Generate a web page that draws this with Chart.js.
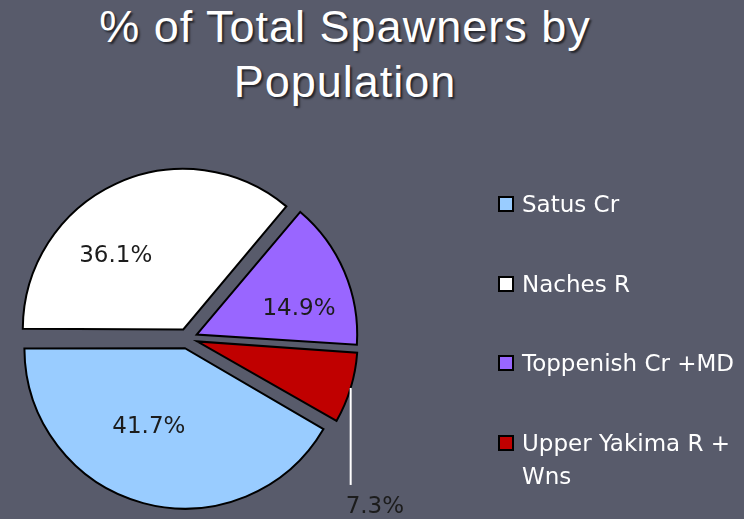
<!DOCTYPE html>
<html>
<head>
<meta charset="utf-8">
<script src="https://cdn.jsdelivr.net/npm/chart.js@4.4.1/dist/chart.umd.min.js"></script>
<style>
  html, body { margin: 0; padding: 0; }
  body { width: 744px; height: 519px; background: #585b6b; position: relative; overflow: hidden; font-family: "DejaVu Sans", sans-serif; }
  #title { position: absolute; left: 0; top: -1px; width: 690px; text-align: center; color: #ffffff;
           font-family: "Liberation Sans", Arial, sans-serif; font-size: 45px; letter-spacing: 1px; line-height: 55px;
           text-shadow: 2px 2px 2px rgba(0,0,0,0.6); }
  #chart { position: absolute; left: 0; top: 0; }
  #legend { position: absolute; left: 498px; top: 0; width: 246px; height: 519px; }
  .item { position: absolute; left: 0; width: 246px; display: flex; align-items: flex-start; }
  .sw { width: 12px; height: 12px; border: 2px solid #000; margin-top: 8px; flex: 0 0 auto; }
  .txt { color: #ffffff; font-size: 23px; line-height: 33px; margin-left: 8px; width: 226px; }
</style>
</head>
<body>
<div id="title"></div>
<canvas id="chart" width="744" height="519"></canvas>
<div id="legend"></div>
<script>
// ---- data ----
const titleLines = ["% of Total Spawners by", "Population"];
const categories = ["Satus Cr", "Naches R", "Toppenish Cr +MD", "Upper Yakima R + Wns"];
const percentValues = [41.7, 36.1, 14.9, 7.3];
const sliceColors = ["#99ccff", "#ffffff", "#9966ff", "#c00000"];

// ---- layout / style (not data) ----
const EXPLODE = 10;          // px each slice is pulled out
const RADIUS = 160.5;
const labelPlacement = [     // label position relative to slice: turn (deg) from mid-angle, fraction of radius
  { turn: 10, frac: 0.53 },
  { turn: -17, frac: 0.63 },
  { turn: 8, frac: 0.66 },
  { outside: true, leader: 97 }
];

document.getElementById('title').innerHTML = titleLines.join('<br>');

const legend = document.getElementById('legend');
categories.forEach((c, i) => {
  const it = document.createElement('div');
  it.className = 'item';
  it.style.top = (188 + i * 79.7) + 'px';
  const sw = document.createElement('div');
  sw.className = 'sw';
  sw.style.background = sliceColors[i];
  const tx = document.createElement('div');
  tx.className = 'txt';
  tx.textContent = c;
  it.appendChild(sw); it.appendChild(tx);
  legend.appendChild(it);
});

const total = percentValues.reduce((a, b) => a + b, 0);

function fixOf(circ) { return 1 - Math.sin(Math.min(Math.PI, circ)); }

const explodeFix = {
  id: 'explodeFix',
  afterDatasetUpdate(chart, args) {
    const meta = args.meta;
    const R = meta.controller.outerRadius;
    meta.data.forEach(arc => {
      // arc draw adds offset/4*fix to radius; compensate so all slices share one radius
      arc.outerRadius = R - EXPLODE * fixOf(arc.circumference);
    });
  }
};

const sliceLabels = {
  id: 'sliceLabels',
  afterDatasetsDraw(chart) {
    const ctx = chart.ctx;
    const meta = chart.getDatasetMeta(0);
    const R = meta.controller.outerRadius;
    meta.data.forEach((arc, i) => {
      const mid = (arc.startAngle + arc.endAngle) / 2;
      const cx = arc.x + Math.cos(mid) * EXPLODE;
      const cy = arc.y + Math.sin(mid) * EXPLODE;
      const text = (percentValues[i] / total * 100).toFixed(1) + '%';
      const p = labelPlacement[i];
      ctx.save();
      ctx.font = '23px "DejaVu Sans"';
      ctx.fillStyle = '#1c1c1c';
      ctx.textBaseline = 'alphabetic';
      if (!p.outside) {
        const a = mid + p.turn * Math.PI / 180;
        const lx = cx + Math.cos(a) * R * p.frac;
        const ly = cy + Math.sin(a) * R * p.frac;
        ctx.textAlign = 'center';
        ctx.fillText(text, lx, ly + 8);
      } else {
        const ex = cx + Math.cos(mid) * R;
        const ey = cy + Math.sin(mid) * R;
        ctx.strokeStyle = '#ffffff';
        ctx.lineWidth = 2;
        ctx.beginPath();
        ctx.moveTo(ex, ey);
        ctx.lineTo(ex, ey + p.leader);
        ctx.stroke();
        ctx.textAlign = 'left';
        ctx.fillText(text, ex - 5, ey + p.leader + 28);
      }
      ctx.restore();
    });
  }
};

new Chart(document.getElementById('chart'), {
  type: 'pie',
  data: {
    labels: categories,
    datasets: [{
      data: percentValues,
      backgroundColor: sliceColors,
      borderColor: '#000000',
      borderWidth: 2,
      borderJoinStyle: 'miter',
      offset: EXPLODE * 4,
      hoverOffset: 0
    }]
  },
  options: {
    responsive: false,
    animation: false,
    events: [],
    rotation: 120,
    radius: RADIUS,
    layout: { padding: { left: 0, top: 158, right: 369, bottom: 0 } },
    plugins: {
      legend: { display: false },
      title: { display: false },
      tooltip: { enabled: false }
    }
  },
  plugins: [explodeFix, sliceLabels]
});
</script>
</body>
</html>
